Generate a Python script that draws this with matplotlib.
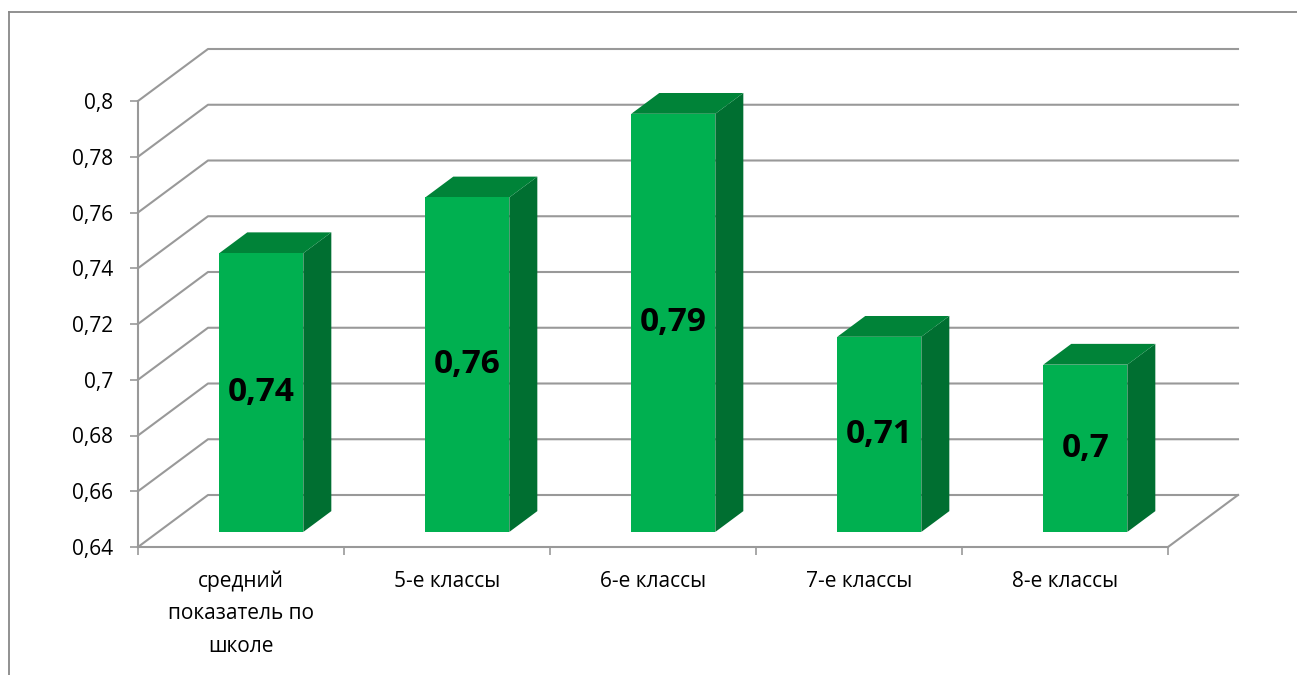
import numpy as np
import matplotlib
matplotlib.use("Agg")
import matplotlib.pyplot as plt
from matplotlib.patches import Polygon
from matplotlib.lines import Line2D

# ── Data ─────────────────────────────────────────────────────────────────────
categories = ["средний\nпоказатель по\nшколе", "5-е классы", "6-е классы",
              "7-е классы", "8-е классы"]
values = [0.74, 0.76, 0.79, 0.71, 0.70]
value_labels = ["0,74", "0,76", "0,79", "0,71", "0,7"]
yticks = [0.64, 0.66, 0.68, 0.70, 0.72, 0.74, 0.76, 0.78, 0.80]
ytick_labels = ["0,64", "0,66", "0,68", "0,7", "0,72", "0,74", "0,76", "0,78", "0,8"]

# ── Style ────────────────────────────────────────────────────────────────────
plt.rcParams["font.family"] = ["Open Sans", "DejaVu Sans"]
FRONT = "#00b050"
SIDE = "#006f31"
TOP = "#008338"
GRID = "#999999"

W, H = 1297, 675
fig = plt.figure(figsize=(W / 100, H / 100), dpi=100)

# front plane of the 3D box, in pixels
x0, x1 = 138, 1168
y_lo, y_hi = 547, 101
ax = fig.add_axes([x0 / W, (H - y_lo) / H, (x1 - x0) / W, (y_lo - y_hi) / H])
ymin, ymax = yticks[0], yticks[-1]
ax.set_xlim(-0.5, len(categories) - 0.5)
ax.set_ylim(ymin, ymax)

# depth vector (pixels) converted to data units
px_x = (x1 - x0) / len(categories)
px_y = (y_lo - y_hi) / (ymax - ymin)
DX, DY = 70 / px_x, 52 / px_y


def shift(pts, f):
    return [(x + f * DX, y + f * DY) for x, y in pts]


# back wall + side wall gridlines
xl, xr = ax.get_xlim()
for yv in yticks:
    ax.add_line(Line2D([xl, xl + DX, xr + DX], [yv, yv + DY, yv + DY],
                       color=GRID, lw=1.5, clip_on=False, zorder=1))
# floor right edge
ax.add_line(Line2D([xr, xr + DX], [ymin, ymin + DY], color=GRID, lw=1.5,
                   clip_on=False, zorder=1))

# bars
w = 0.408
f0, f1 = 0.29, 0.69
for i, v in enumerate(values):
    l, r = i - w / 2, i + w / 2
    front = shift([(l, ymin), (r, ymin), (r, v), (l, v)], f0)
    side = shift([(r, ymin), (r, v)], f0) + shift([(r, v), (r, ymin)], f1)
    top = shift([(l, v), (r, v)], f0) + shift([(r, v), (l, v)], f1)
    ax.add_patch(Polygon(side, closed=True, fc=SIDE, ec="none", zorder=3, clip_on=False))
    ax.add_patch(Polygon(top, closed=True, fc=TOP, ec="none", zorder=3, clip_on=False))
    ax.add_patch(Polygon(front, closed=True, fc=FRONT, ec="none", zorder=4, clip_on=False))
    ax.text(i + f0 * DX, (ymin + v) / 2 + f0 * DY, value_labels[i], ha="center",
            va="center", fontsize=24, fontweight="bold", color="black", zorder=5)

# axes
for s in ["top", "right"]:
    ax.spines[s].set_visible(False)
for s in ["left", "bottom"]:
    ax.spines[s].set_color(GRID)
    ax.spines[s].set_linewidth(1.5)
ax.set_facecolor("none")
ax.set_yticks(yticks)
ax.set_yticklabels(ytick_labels, fontsize=15)
ax.tick_params(axis="y", length=6, width=1.2, color=GRID, pad=12)
ax.set_xticks(range(len(categories)))
ax.set_xticklabels(categories, fontsize=15, linespacing=1.7)
ax.set_xticks(np.arange(-0.5, len(categories), 1), minor=True)
ax.tick_params(axis="x", which="major", length=0, pad=17)
ax.tick_params(axis="x", which="minor", length=6, width=1.2, color=GRID)

# outer chart frame (top and left edges only are inside the picture)
fig.add_artist(Line2D([9 / W, 1.0], [1 - 12 / H, 1 - 12 / H], color="#888888", lw=1.3))
fig.add_artist(Line2D([9 / W, 9 / W], [0, 1 - 12 / H], color="#888888", lw=1.3))

fig.savefig("out.png", dpi=100)
